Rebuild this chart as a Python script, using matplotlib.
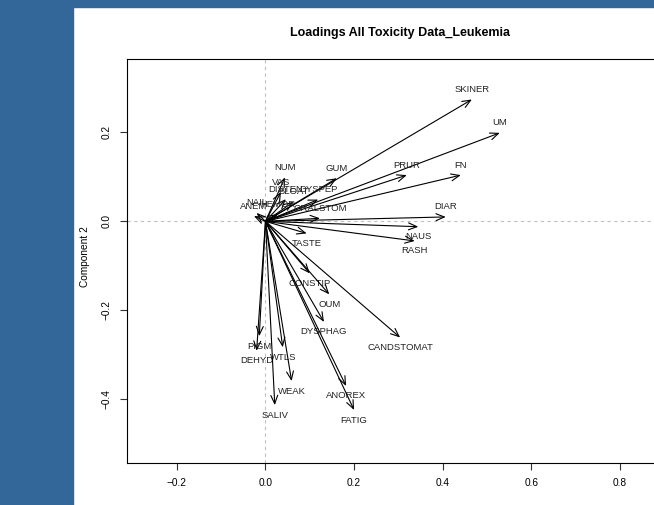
import numpy as np
import matplotlib.pyplot as plt
from matplotlib.patches import Rectangle

plt.rcParams['font.family'] = ['Liberation Sans', 'DejaVu Sans']

# loadings on components 1 and 2
labels = ['SKINER', 'UM', 'FN', 'PRUR', 'GUM', 'NUM', 'VAS', 'DISTEN', 'BLOAT',
          'DYSPEP', 'NAIL', 'ANEM', 'HEMOR', 'ORALSTOM', 'DIAR', 'NAUS', 'RASH',
          'TASTE', 'CONSTIP', 'OUM', 'DYSPHAG', 'CANDSTOMAT', 'PIGM', 'DEHYD',
          'WTLS', 'WEAK', 'SALIV', 'ANOREX', 'FATIG']
comp1 = [0.466, 0.529, 0.441, 0.319, 0.161, 0.044, 0.035, 0.046, 0.063,
         0.119, -0.020, -0.026, 0.028, 0.123, 0.407, 0.345, 0.337,
         0.093, 0.100, 0.144, 0.132, 0.304, -0.014, -0.020,
         0.039, 0.059, 0.021, 0.182, 0.200]
comp2 = [0.274, 0.199, 0.104, 0.104, 0.097, 0.099, 0.066, 0.050, 0.044,
         0.049, 0.019, 0.012, 0.016, 0.007, 0.010, -0.012, -0.044,
         -0.027, -0.117, -0.164, -0.226, -0.261, -0.258, -0.291,
         -0.283, -0.359, -0.413, -0.370, -0.424]

W, H = 654, 505
fig = plt.figure(figsize=(W / 100, H / 100), dpi=100)
fig.patch.set_facecolor('white')

# page frame around the plot
blue = '#336699'
fig.patches.append(Rectangle((0, 0), 73 / W, 1, transform=fig.transFigure,
                             color=blue, zorder=-10))
fig.patches.append(Rectangle((0, 1 - 7 / H), 1, 7 / H, transform=fig.transFigure,
                             color=blue, zorder=-10))

ax = fig.add_axes([127 / W, 42.5 / H, (673 - 127) / W, (462.5 - 59) / H])
ax.set_xlim(-0.3126, 0.92)
ax.set_ylim(-0.542, 0.365)

ax.axhline(0, color='#c0c0c0', ls=(0, (3, 3)), lw=0.8, zorder=0)
ax.axvline(0, color='#c0c0c0', ls=(0, (3, 3)), lw=0.8, zorder=0)

for lab, x, y in zip(labels, comp1, comp2):
    ax.annotate('', xy=(x, y), xytext=(0, 0),
                arrowprops=dict(arrowstyle='->,head_length=0.6,head_width=0.25',
                                lw=0.8, color='black', shrinkA=0, shrinkB=0))
    off = 7.2 if y >= 0 else -7.2
    ax.annotate(lab, xy=(x, y), xytext=(0, off), textcoords='offset points',
                ha='center', va='center', fontsize=6.8, color='#222222')

ax.set_xticks([-0.2, 0.0, 0.2, 0.4, 0.6, 0.8])
ax.set_yticks([-0.4, -0.2, 0.0, 0.2])
ax.set_xticklabels(['\u22120.2', '0.0', '0.2', '0.4', '0.6', '0.8'])
ax.set_yticklabels(['\u22120.4', '\u22120.2', '0.0', '0.2'], rotation=90, va='center')
ax.tick_params(direction='out', length=5, width=0.8, labelsize=7.3, pad=6, color='#333333')
for s in ax.spines.values():
    s.set_linewidth(0.8)

fig.text(85 / W, 1 - 257 / H, 'Component 2', rotation=90, ha='center', va='center',
         fontsize=7.3)
fig.text(400 / W, 1 - 33 / H, 'Loadings All Toxicity Data_Leukemia', ha='center',
         va='center', fontsize=9, fontweight='bold')

fig.savefig('out.png', dpi=100)
